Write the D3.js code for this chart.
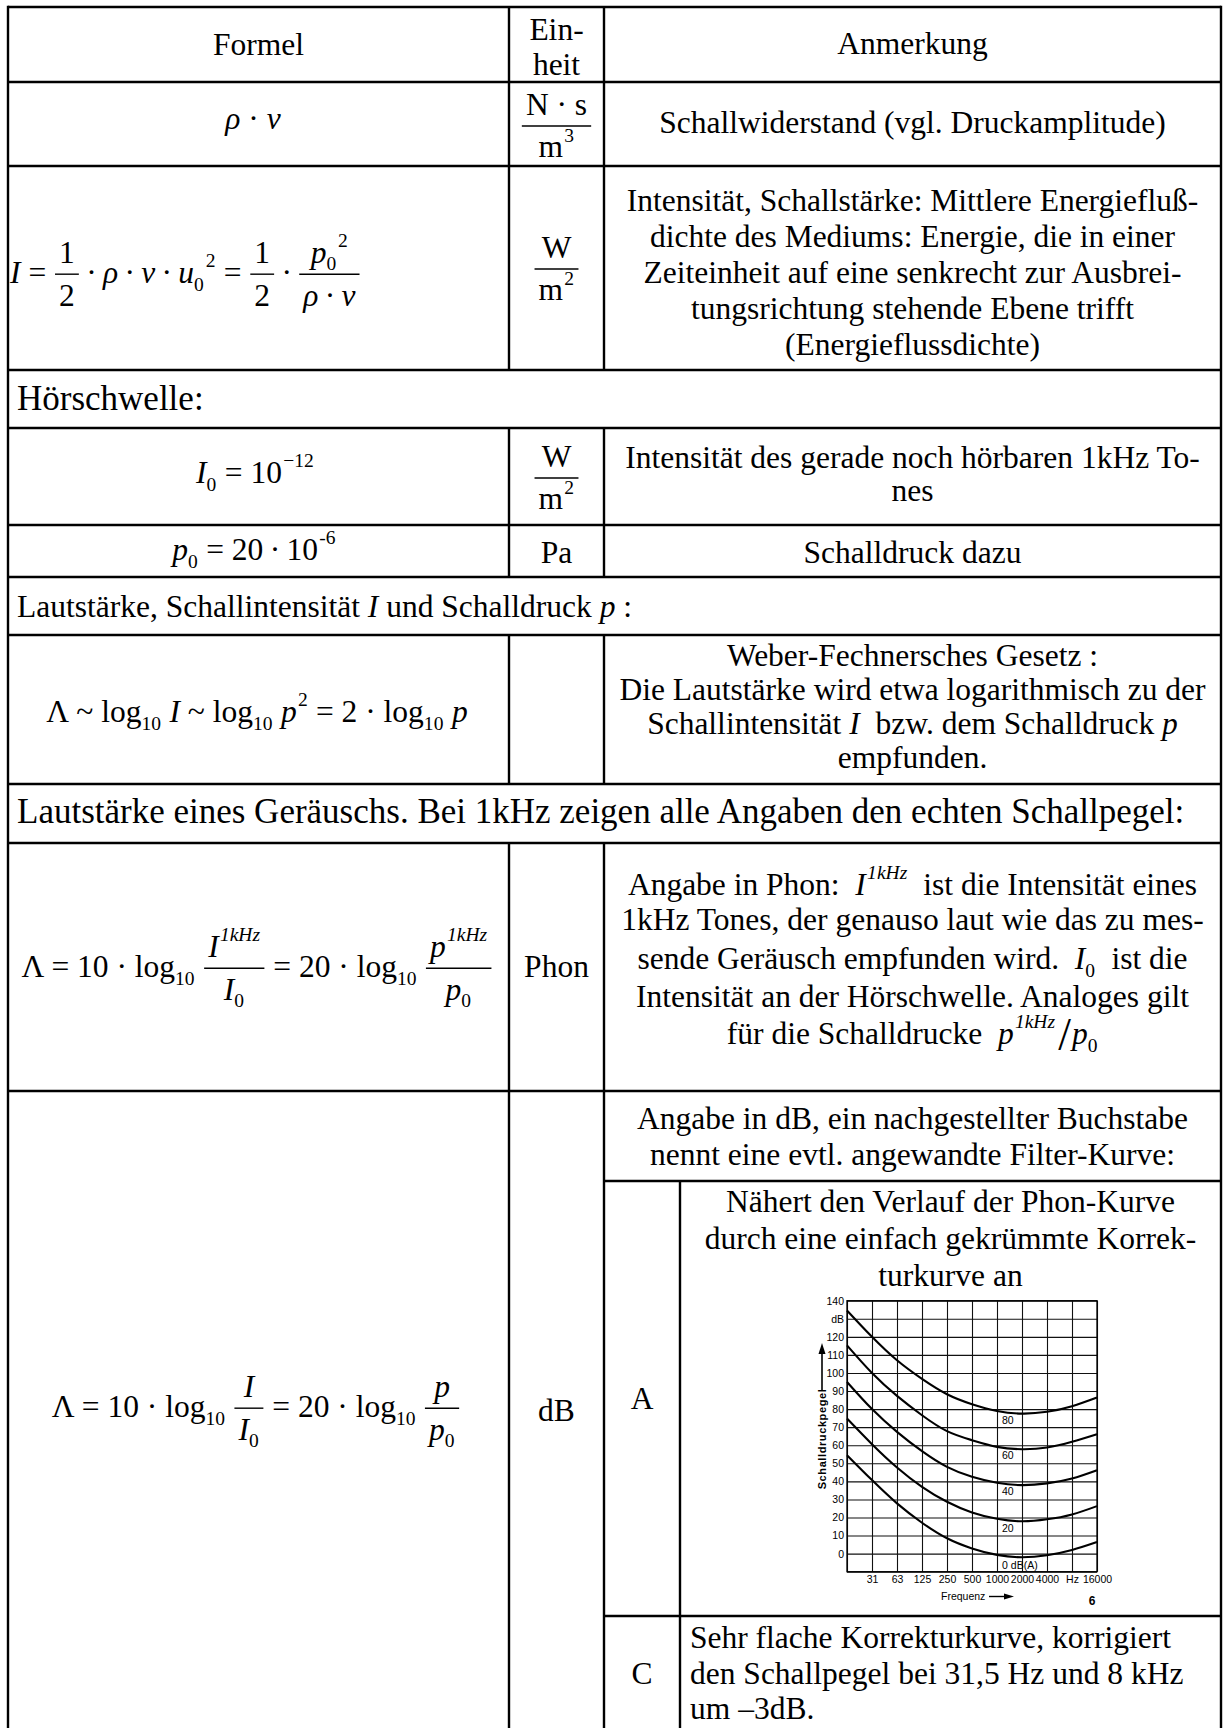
<!DOCTYPE html>
<html>
<head>
<meta charset="utf-8">
<title>Schall – Formeln</title>
<script src="https://cdn.jsdelivr.net/npm/d3@7"></script>
<style>
  body { margin: 0; background: #fff; }
  svg { display: block; }
  text { font-family: "Liberation Serif", "Times New Roman", serif; fill: #000; white-space: pre; }
  .chart text { font-family: "Liberation Sans", Arial, sans-serif; }
</style>
</head>
<body>
<svg id="sheet" width="1224" height="1728"></svg>
<script>
// ---- table text ----
const headerCells = ['Formel', ['Ein-', 'heit'], 'Anmerkung'];
const spanTexts = [
    'Hörschwelle:',
    'Lautstärke, Schallintensität *I* und Schalldruck *p* :',
    'Lautstärke eines Geräuschs. Bei 1kHz zeigen alle Angaben den echten Schallpegel:'
];

// formulas: strings use *italic*, ^{sup}, _{sub}; a [num, den] pair is a fraction
const fImpedance = ['*ρ* · *v*'];
const fIntensity = ['*I* = ', ['1', '2'], '\u2009·\u2009*ρ*\u2009·\u2009*v*\u2009·\u2009*u*_{0}^{2} = ', ['1', '2'], '\u2009·\u2009', ['*p*_{0}^{2}', '*ρ*\u2009·\u2009*v*']];
const fThreshold = ['*I*_{0} = 10^{−12}'];
const fPressure0 = ['*p*_{0} = 20\u2009·\u200910^{-6}'];
const fWeber = ['Λ ~ log_{10} *I* ~ log_{10} *p*^{2} = 2 · log_{10} *p*'];
const fPhon = ['Λ = 10 · log_{10} ', ['*I*^{*1kHz*}', '*I*_{0}'], ' = 20 · log_{10} ', ['*p*^{*1kHz*}', '*p*_{0}']];
const fLevel = ['Λ = 10 · log_{10} ', ['*I*', '*I*_{0}'], ' = 20 · log_{10} ', ['*p*', '*p*_{0}']];

const uImpedance = [['N · s', 'm^{3}']];
const uIntensity = [['W', 'm^{2}']];
const unitWords = ['Pa', 'Phon', 'dB'];

const noteImpedance = ['Schallwiderstand (vgl. Druckamplitude)'];
const noteIntensity = [
    'Intensität, Schallstärke: Mittlere Energiefluß-',
    'dichte des Mediums: Energie, die in einer',
    'Zeiteinheit auf eine senkrecht zur Ausbrei-',
    'tungsrichtung stehende Ebene trifft',
    '(Energieflussdichte)'
];
const noteThreshold = ['Intensität des gerade noch hörbaren 1kHz To-', 'nes'];
const notePressure = ['Schalldruck dazu'];
const noteWeber = [
    'Weber-Fechnersches Gesetz :',
    'Die Lautstärke wird etwa logarithmisch zu der',
    'Schallintensität *I*  bzw. dem Schalldruck *p*',
    'empfunden.'
];
const notePhon = [
    'Angabe in Phon:  *I*^{*1kHz*}  ist die Intensität eines',
    '1kHz Tones, der genauso laut wie das zu mes-',
    'sende Geräusch empfunden wird.  *I*_{0}  ist die',
    'Intensität an der Hörschwelle. Analoges gilt',
    'für die Schalldrucke  *p*^{*1kHz*}{/}*p*_{0}'
];
const noteLevel = ['Angabe in dB, ein nachgestellter Buchstabe', 'nennt eine evtl. angewandte Filter-Kurve:'];
const filterNames = ['A', 'C'];
const noteFilterA = ['Nähert den Verlauf der Phon-Kurve', 'durch eine einfach gekrümmte Korrek-', 'turkurve an'];
const noteFilterC = ['Sehr flache Korrekturkurve, korrigiert', 'den Schallpegel bei 31,5 Hz und 8 kHz', 'um –3dB.'];

// ---- chart data (A-weighted equal level curves) ----
const freqs = [15.625, 31.25, 62.5, 125, 250, 500, 1000, 2000, 4000, 8000, 16000];
const freqLabels = ['', '31', '63', '125', '250', '500', '1000', '2000', '4000', 'Hz', '16000'];
const gridLevels = [-10, 0, 10, 20, 30, 40, 50, 60, 70, 80, 90, 100, 110, 120, 130, 140];
const levelLabels = ['', '0', '10', '20', '30', '40', '50', '60', '70', '80', '90', '100', '110', '120', 'dB', '140'];
const curve0 = [54.5, 40.7, 27.8, 17.1, 8.5, 2.9, -0.7, -2, -0.9, 2, 6.4];
const curve20 = [74.8, 60.6, 47.7, 37, 28.7, 22.8, 19.3, 17.9, 19, 21.7, 26.3];
const curve40 = [95, 80, 67.4, 56.7, 48, 42.5, 39.2, 37.9, 38.9, 41.6, 46.2];
const curve60 = [115.3, 100, 87.3, 76.6, 67.8, 62.8, 59.1, 57.8, 58.7, 61.9, 66.1];
const curve80 = [134.6, 120, 107, 96.7, 88.2, 82.7, 79, 77.5, 78.5, 81.6, 86.4];
const curveNames = ['0 dB(A)', '20', '40', '60', '80'];
const curveLabelLevels = [-8.5, 12, 32.4, 52.3, 72];
const curveLabelFreq = 1150;

// ---- tiny typesetter ----
const FS = 31.5;
const svg = d3.select('#sheet');

function parse(str) {
    return str.split(/(\*[^*]+\*|\^\{[^}]*\}|_\{[^}]*\}|\{\/\})/)
        .filter(s => s.length)
        .map(s => {
            if (s.length > 2 && s[0] === '*' && s[s.length - 1] === '*') return {t: s.slice(1, -1), it: true};
            if (s.startsWith('^{')) return {sup: parse(s.slice(2, -1))};
            if (s.startsWith('_{')) return {sub: parse(s.slice(2, -1))};
            if (s === '{/}') return {slash: true};
            return {t: s};
        });
}

function nodes(items) {
    let out = [];
    items.forEach(it => {
        if (typeof it === 'string') out = out.concat(parse(it));
        else out.push({frac: [parse(it[0]), parse(it[1])]});
    });
    return out;
}

function run(g, list, x0, y, size) {
    let x = x0;
    list.forEach(n => {
        if (n.t !== undefined) {
            let t = g.append('text')
                .attr('x', x)
                .attr('y', y)
                .style('font-size', size + 'px')
                .style('font-style', n.it ? 'italic' : null)
                .text(n.t);
            x += t.node().getComputedTextLength();
        } else if (n.sup) {
            x += run(g, n.sup, x + size * 0.04, y - size * 0.5, size * 0.62) + size * 0.05;
        } else if (n.sub) {
            x += run(g, n.sub, x, y + size * 0.24, size * 0.62) + size * 0.02;
        } else if (n.slash) {
            let t = g.append('text')
                .attr('x', x + 3)
                .attr('y', y + size * 0.2)
                .style('font-size', size * 1.45 + 'px')
                .text('/');
            x += t.node().getComputedTextLength() + 4;
        } else if (n.frac) {
            let num = g.append('g'), den = g.append('g');
            let wn = run(num, n.frac[0], 0, 0, size);
            let wd = run(den, n.frac[1], 0, 0, size);
            let pad = size * 0.16;
            let w = Math.max(wn, wd) + 2 * pad;
            let ly = y - size * 0.28;
            num.attr('transform', `translate(${x + (w - wn) / 2},${ly - size * 0.36})`);
            den.attr('transform', `translate(${x + (w - wd) / 2},${ly + size * 1.0})`);
            g.append('line')
                .attr('x1', x + 1).attr('x2', x + w - 1)
                .attr('y1', ly).attr('y2', ly)
                .attr('stroke', '#000')
                .attr('stroke-width', 1.4);
            x += w;
        }
    });
    return x - x0;
}

function put(items, x, y, anchor, size) {
    let g = svg.append('g');
    let w = run(g, nodes(items), 0, y, size || FS);
    let dx = anchor === 'middle' ? x - w / 2 : x;
    g.attr('transform', `translate(${dx},0)`);
    return g;
}

function lines(list, x, baselines, anchor) {
    list.forEach((s, i) => put([s], x, baselines[i], anchor));
}

// ---- table grid ----
const L = 8, C1 = 509, C2 = 604, CS = 680, R = 1221, TOP = 7, BOT = 1728;
const fullRules = [7, 82, 166, 370, 428, 525, 577, 635, 784, 843, 1091];
const subRules = [1181, 1616];
const colSpans = [[7, 370], [428, 577], [635, 784], [843, 1728]];

let grid = svg.append('g')
    .attr('stroke', '#000')
    .attr('stroke-width', 2.4);

grid.selectAll('.h').data(fullRules).enter().append('line')
    .attr('x1', L).attr('x2', R).attr('y1', d => d).attr('y2', d => d);
grid.selectAll('.s').data(subRules).enter().append('line')
    .attr('x1', C2).attr('x2', R).attr('y1', d => d).attr('y2', d => d);
[L, R].forEach(x => grid.append('line').attr('x1', x).attr('x2', x).attr('y1', TOP - 1.2).attr('y2', BOT));
[C1, C2].forEach(x => {
    colSpans.forEach(s => grid.append('line').attr('x1', x).attr('x2', x).attr('y1', s[0]).attr('y2', s[1]));
});
grid.append('line').attr('x1', CS).attr('x2', CS).attr('y1', 1181).attr('y2', BOT);

// ---- header ----
const cx0 = (L + C1) / 2, cx1 = (C1 + C2) / 2, cx2 = (C2 + R) / 2, cxs = (CS + R) / 2;
put([headerCells[0]], cx0, 55, 'middle');
lines(headerCells[1], cx1, [40, 75], 'middle');
put([headerCells[2]], cx2, 54, 'middle');

// ---- rows ----
put(fImpedance, 253, 129, 'middle');
put(uImpedance, cx1, 134.8, 'middle');
lines(noteImpedance, cx2, [133], 'middle');

put(fIntensity, 10, 283, 'start');
put(uIntensity, cx1, 277.8, 'middle');
lines(noteIntensity, cx2, [211, 247, 283, 319, 355], 'middle');

put([spanTexts[0]], 17, 410, 'start', 35);

put(fThreshold, 255, 483, 'middle');
put(uIntensity, cx1, 486.8, 'middle');
lines(noteThreshold, cx2, [468, 501], 'middle');

put(fPressure0, 254, 560, 'middle');
put([unitWords[0]], cx1, 563, 'middle');
lines(notePressure, cx2, [563], 'middle');

put([spanTexts[1]], 17, 617, 'start');

put(fWeber, 257, 722, 'middle');
lines(noteWeber, cx2, [666, 700, 734, 768], 'middle');

put([spanTexts[2]], 17, 823, 'start', 35);

put(fPhon, 257, 977, 'middle');
put([unitWords[1]], cx1, 977, 'middle');
lines(notePhon, cx2, [895, 930, 969, 1007, 1044], 'middle');

put(fLevel, 256, 1417, 'middle');
put([unitWords[2]], cx1, 1421, 'middle');
lines(noteLevel, cx2, [1129, 1165], 'middle');
put([filterNames[0]], (C2 + CS) / 2, 1409, 'middle');
lines(noteFilterA, cxs, [1212, 1249, 1286], 'middle');
put([filterNames[1]], (C2 + CS) / 2, 1684, 'middle');
lines(noteFilterC, 690, [1648, 1684, 1719], 'start');

// ---- chart ----
const chart = svg.append('g').attr('class', 'chart');
const x = d3.scaleLog().base(2).domain([15.625, 16000]).range([847, 1097]);
const y = d3.scaleLinear().domain([-10, 140]).range([1571.7, 1300.7]);

let yAxis = d3.axisLeft(y)
    .tickValues(gridLevels)
    .tickSize(-(x.range()[1] - x.range()[0]))
    .tickPadding(3)
    .tickFormat((d, i) => levelLabels[i]);
let xAxis = d3.axisBottom(x)
    .tickValues(freqs)
    .tickSize(-(y.range()[0] - y.range()[1]))
    .tickPadding(4)
    .tickFormat((d, i) => freqLabels[i]);

[chart.append('g').attr('transform', `translate(${x.range()[0]},0)`).call(yAxis),
 chart.append('g').attr('transform', `translate(0,${y.range()[0]})`).call(xAxis)].forEach(a => {
    a.select('.domain').remove();
    a.selectAll('.tick line').attr('stroke', '#111').attr('stroke-width', 1.1);
    a.selectAll('.tick text')
        .attr('fill', '#000')
        .style('font-size', '10.5px')
        .style('font-family', '"Liberation Sans", Arial, sans-serif');
});

chart.append('rect')
    .attr('x', x.range()[0]).attr('y', y.range()[1])
    .attr('width', x.range()[1] - x.range()[0])
    .attr('height', y.range()[0] - y.range()[1])
    .attr('fill', 'none')
    .attr('stroke', '#000')
    .attr('stroke-width', 1.3);

let curve = d3.line()
    .x((d, i) => x(freqs[i]))
    .y(d => y(d))
    .curve(d3.curveNatural);

chart.selectAll('.curve')
    .data([curve0, curve20, curve40, curve60, curve80])
    .enter()
    .append('path')
    .attr('class', 'curve')
    .attr('d', curve)
    .attr('fill', 'none')
    .attr('stroke', '#000')
    .attr('stroke-width', 2.1);

chart.selectAll('.clabel')
    .data(curveNames)
    .enter()
    .append('text')
    .attr('class', 'clabel')
    .attr('x', x(curveLabelFreq))
    .attr('y', (d, i) => y(curveLabelLevels[i]))
    .style('font-size', '10.5px')
    .text(d => d);

// axis titles
chart.append('text')
    .attr('transform', 'translate(826,1439) rotate(-90)')
    .attr('text-anchor', 'middle')
    .style('font-size', '11px')
    .style('font-weight', 'bold')
    .style('letter-spacing', '0.6px')
    .text('Schalldruckpegel');
chart.append('line')
    .attr('x1', 822).attr('x2', 822).attr('y1', 1390).attr('y2', 1352)
    .attr('stroke', '#000').attr('stroke-width', 1.6);
chart.append('path')
    .attr('d', 'M822,1343 L818.5,1354 L825.5,1354 Z')
    .attr('fill', '#000');

chart.append('text')
    .attr('x', 941).attr('y', 1600)
    .style('font-size', '10.5px')
    .text('Frequenz');
chart.append('line')
    .attr('x1', 989).attr('x2', 1005).attr('y1', 1596.5).attr('y2', 1596.5)
    .attr('stroke', '#000').attr('stroke-width', 1.4);
chart.append('path')
    .attr('d', 'M1014,1596.5 L1004,1593.5 L1004,1599.5 Z')
    .attr('fill', '#000');
chart.append('text')
    .attr('x', 1092).attr('y', 1605)
    .attr('text-anchor', 'middle')
    .style('font-size', '12px')
    .style('font-weight', 'bold')
    .text('6');
</script>
</body>
</html>
